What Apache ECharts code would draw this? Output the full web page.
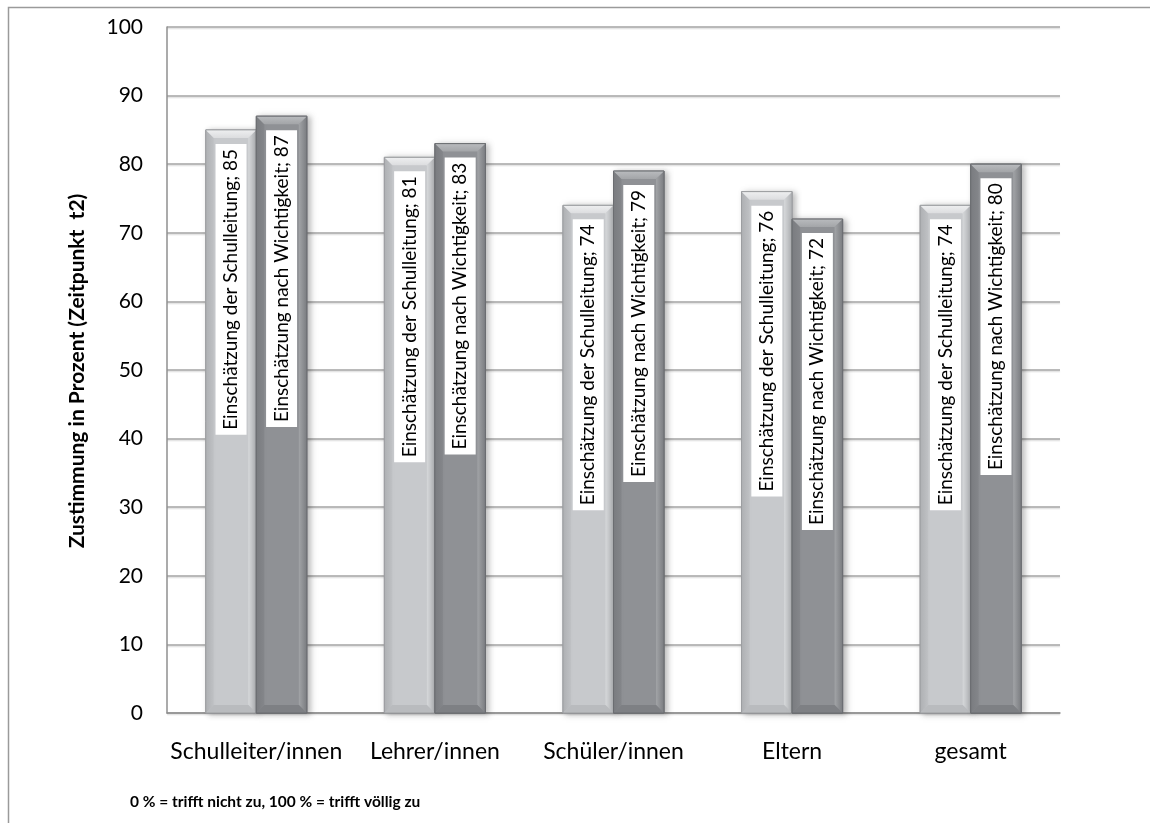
<!DOCTYPE html>
<html>
<head>
<meta charset="utf-8">
<script src="https://cdn.jsdelivr.net/npm/echarts@6/dist/echarts.min.js"></script>
<style>
  html, body { margin: 0; padding: 0; background: #fff; }
  #chart { width: 1150px; height: 823px; }
</style>
</head>
<body>
<div id="chart"></div>
<script>
// Zustimmung je Personengruppe (Zeitpunkt t2)
const categories = ['Schulleiter/innen', 'Lehrer/innen', 'Schüler/innen', 'Eltern', 'gesamt'];
const seriesNames = ['Einschätzung der Schulleitung', 'Einschätzung nach Wichtigkeit'];
const schulleitung = [85, 81, 74, 76, 74];
const wichtigkeit = [87, 83, 79, 72, 80];
const yTicks = { min: 0, max: 100, interval: 10 };
const axisTitle = 'Zustimmung in Prozent (Zeitpunkt  t2)';
const footnote = '0 % = trifft nicht zu, 100 % = trifft völlig zu';

const FONT = 'Lato, "Open Sans", sans-serif';
const BAR_FRACTION = 0.283;   // share of the category band used by each bar

// palettes for the bevelled columns
const palettes = [
  { body: '#c7c9cc', edgeDark: '#aeb0b3', top: '#eeeff0', topInner: '#dcdddf',
    left: '#bfc1c4', right: '#d6d8da', bottom: '#b9bbbe', outline: '#9c9ea1' },
  { body: '#8f9195', edgeDark: '#7a7c80', top: '#b9bbbe', topInner: '#a3a5a8',
    left: '#84868a', right: '#a2a4a7', bottom: '#7e8084', outline: '#6b6d71' }
];

function bevelBar(seriesIdx) {
  const pal = palettes[seriesIdx];
  const side = seriesIdx === 0 ? -1 : 1;
  return function (params, api) {
    const cat = api.value(0);
    const v = api.value(1);
    const top = api.coord([cat, v]);
    const base = api.coord([cat, 0]);
    const w = api.size([1, 0])[0] * BAR_FRACTION;
    const x0 = side < 0 ? top[0] - w : top[0];
    const x1 = x0 + w;
    const y0 = top[1];
    const y1 = base[1];
    const b = Math.min(8, (y1 - y0) / 2);
    const cx = (x0 + x1) / 2;
    return {
      type: 'group',
      children: [
        {
          type: 'rect',
          shape: { x: x0, y: y0, width: w, height: y1 - y0 },
          style: {
            fill: pal.body,
            stroke: pal.outline,
            lineWidth: 1,
            shadowColor: 'rgba(0,0,0,0.28)',
            shadowBlur: 6,
            shadowOffsetX: 3,
            shadowOffsetY: 1
          }
        },
        {
          type: 'polygon',
          shape: { points: [[x0, y0], [x0 + b, y0 + b], [x0 + b, y1 - b], [x0, y1]] },
          style: {
            fill: new echarts.graphic.LinearGradient(0, 0, 1, 0, [
              { offset: 0, color: pal.edgeDark }, { offset: 1, color: pal.left }
            ])
          }
        },
        {
          type: 'polygon',
          shape: { points: [[x1, y0], [x1, y1], [x1 - b, y1 - b], [x1 - b, y0 + b]] },
          style: {
            fill: new echarts.graphic.LinearGradient(0, 0, 1, 0, [
              { offset: 0, color: pal.right }, { offset: 1, color: pal.edgeDark }
            ])
          }
        },
        {
          type: 'polygon',
          shape: { points: [[x0, y1], [x0 + b, y1 - b], [x1 - b, y1 - b], [x1, y1]] },
          style: { fill: pal.bottom }
        },
        {
          type: 'polygon',
          shape: { points: [[x0, y0], [x1, y0], [x1 - b, y0 + b], [x0 + b, y0 + b]] },
          style: {
            fill: new echarts.graphic.LinearGradient(0, 0, 0, 1, [
              { offset: 0, color: pal.top }, { offset: 1, color: pal.topInner }
            ])
          }
        },
        {
          type: 'rect',
          shape: { x: x0, y: y0, width: w, height: y1 - y0 },
          style: { fill: 'none', stroke: pal.outline, lineWidth: 1 }
        },
        {
          type: 'text',
          x: cx,
          y: y0 + 14,
          rotation: Math.PI / 2,
          z2: 20,
          style: {
            text: seriesNames[seriesIdx] + '; ' + v,
            fontFamily: FONT,
            fontSize: 19,
            fill: '#000',
            backgroundColor: '#fff',
            padding: [6, 5],
            align: 'right',
            verticalAlign: 'middle'
          }
        }
      ]
    };
  };
}

const chart = echarts.init(document.getElementById('chart'), null, { renderer: 'canvas' });

chart.setOption({
  animation: false,
  backgroundColor: '#fff',
  grid: { left: 167, right: 90, top: 27, bottom: 110, containLabel: false },
  xAxis: {
    type: 'category',
    data: categories,
    axisTick: { show: false },
    axisLine: { show: true, lineStyle: { color: '#8f8f8f', width: 1.5 } },
    axisLabel: { color: '#000', fontFamily: FONT, fontSize: 23, margin: 27, interval: 0 },
    splitLine: { show: false }
  },
  yAxis: {
    type: 'value',
    min: yTicks.min,
    max: yTicks.max,
    interval: yTicks.interval,
    axisLine: { show: true, lineStyle: { color: '#8f8f8f', width: 1.5 } },
    axisTick: { show: false },
    axisLabel: { color: '#000', fontFamily: FONT, fontSize: 21, margin: 24 },
    splitLine: {
      show: true,
      lineStyle: { color: '#a3a3a3', width: 1.5, shadowColor: 'rgba(0,0,0,0.12)', shadowOffsetY: 1.5, shadowBlur: 1 }
    }
  },
  series: [
    {
      type: 'custom',
      name: seriesNames[0],
      renderItem: bevelBar(0),
      data: schulleitung.map((v, i) => [i, v]),
      z: 3
    },
    {
      type: 'custom',
      name: seriesNames[1],
      renderItem: bevelBar(1),
      data: wichtigkeit.map((v, i) => [i, v]),
      z: 4
    }
  ],
  graphic: [
    {
      type: 'polyline',
      shape: { points: [[8.5, 823], [8.5, 7.5], [1150, 7.5]] },
      style: { fill: 'none', stroke: '#9a9a9a', lineWidth: 1.5 },
      silent: true
    },
    {
      // vertical axis title
      type: 'text',
      x: 77,
      y: 371,
      rotation: Math.PI / 2,
      style: {
        text: axisTitle,
        fontFamily: FONT,
        fontSize: 21,
        fontWeight: 'bold',
        fill: '#000',
        align: 'center',
        verticalAlign: 'middle'
      }
    },
    {
      type: 'text',
      left: 130,
      top: 794,
      style: {
        text: footnote,
        fontFamily: FONT,
        fontSize: 15.5,
        fontWeight: 'bold',
        fill: '#000'
      }
    }
  ]
});
</script>
</body>
</html>
